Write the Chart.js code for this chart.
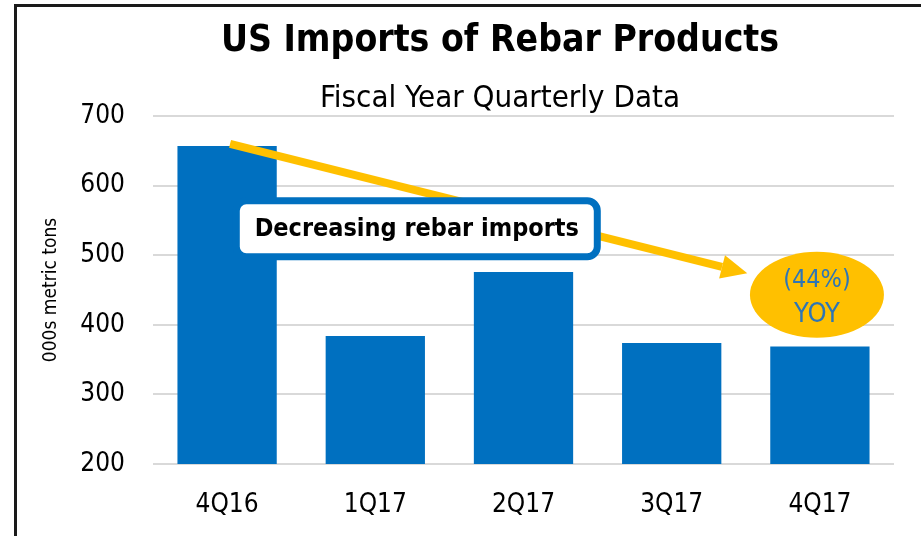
<!DOCTYPE html>
<html>
<head>
<meta charset="utf-8">
<script src="https://cdn.jsdelivr.net/npm/chart.js@4.4.1/dist/chart.umd.min.js"></script>
<style>
  html, body { margin: 0; padding: 0; background: #fff; overflow: hidden; }
  #wrap { position: relative; width: 921px; height: 536px; }
  #frame {
    position: absolute; left: 14px; top: 4px;
    width: 1000px; height: 1000px;
    border: 3px solid #1a1a1a; box-sizing: border-box;
  }
  canvas { position: absolute; left: 0; top: 0; }
</style>
</head>
<body>
<div id="wrap">
  <div id="frame"></div>
  <canvas id="rebarChart" width="921" height="536"></canvas>
</div>
<script>
/* =========================
   DATA
========================= */
const quarters = ["4Q16", "1Q17", "2Q17", "3Q17", "4Q17"];
const imports = [657, 384, 476, 374, 369];
const yTicks = [200, 300, 400, 500, 600, 700];

const titleText = "US Imports of Rebar Products";
const subtitleText = "Fiscal Year Quarterly Data";

// callouts, anchored in data space: [category index, value]
const arrowFrom = [0.02, 660];
const arrowTo = [3.51, 474];
const calloutAt = [1.28, 538];
const calloutText = "Decreasing rebar imports";
const yoyAt = [3.98, 443];
const yoyText = ["(44%)", "YOY"];

const FONT = "'Liberation Sans Narrow', 'DejaVu Sans Condensed', Arial, sans-serif";
const BLUE = "#0070C0";
const GOLD = "#FFC000";

/* =========================
   HEADINGS PLUGIN
   (centred on the framed slide, not the plot)
========================= */
const headings = {
  id: "headings",
  afterDraw(chart) {
    const ctx = chart.ctx;
    ctx.save();
    ctx.fillStyle = "#000";
    ctx.textAlign = "center";
    ctx.textBaseline = "middle";
    ctx.font = "bold 37px " + FONT;
    ctx.fillText(titleText, 500, 41);
    ctx.font = "31px " + FONT;
    ctx.fillText(subtitleText, 500, 99);
    ctx.restore();
  }
};

/* =========================
   CALLOUTS PLUGIN
========================= */
const callouts = {
  id: "callouts",
  afterDatasetsDraw(chart) {
    const { ctx, scales: { x, y } } = chart;
    const px = p => [x.getPixelForValue(p[0]), y.getPixelForValue(p[1])];

    // arrow
    const [x0, y0] = px(arrowFrom);
    const [x1, y1] = px(arrowTo);
    const ang = Math.atan2(y1 - y0, x1 - x0);
    const headLen = 26, headHalf = 12;
    const bx = x1 - headLen * Math.cos(ang);
    const by = y1 - headLen * Math.sin(ang);
    ctx.save();
    ctx.strokeStyle = GOLD;
    ctx.fillStyle = GOLD;
    ctx.lineWidth = 8;
    ctx.beginPath();
    ctx.moveTo(x0, y0);
    ctx.lineTo(bx, by);
    ctx.stroke();
    ctx.beginPath();
    ctx.moveTo(x1, y1);
    ctx.lineTo(bx + headHalf * Math.sin(ang), by - headHalf * Math.cos(ang));
    ctx.lineTo(bx - headHalf * Math.sin(ang), by + headHalf * Math.cos(ang));
    ctx.closePath();
    ctx.fill();

    // text box
    const [cx, cy] = px(calloutAt);
    const w = 361, h = 56;
    ctx.beginPath();
    ctx.roundRect(cx - w / 2, cy - h / 2, w, h, 10);
    ctx.fillStyle = "#fff";
    ctx.fill();
    ctx.lineWidth = 7;
    ctx.strokeStyle = BLUE;
    ctx.stroke();
    ctx.fillStyle = "#000";
    ctx.font = "bold 25px " + FONT;
    ctx.textAlign = "center";
    ctx.textBaseline = "middle";
    ctx.fillText(calloutText, cx, cy + 1);

    // yoy ellipse
    const [ex, ey] = px(yoyAt);
    ctx.beginPath();
    ctx.ellipse(ex, ey, 67, 43, 0, 0, Math.PI * 2);
    ctx.fillStyle = GOLD;
    ctx.fill();
    ctx.fillStyle = "#2E75B6";
    ctx.font = "25px " + FONT;
    ctx.fillText(yoyText[0], ex, ey - 14);
    ctx.font = "27px " + FONT;
    ctx.fillText(yoyText[1], ex, ey + 20);
    ctx.restore();
  }
};

/* =========================
   CHART
========================= */
new Chart(document.getElementById("rebarChart"), {
  type: "bar",
  data: {
    labels: quarters,
    datasets: [{
      data: imports,
      backgroundColor: BLUE,
      categoryPercentage: 0.67,
      barPercentage: 1.0
    }]
  },
  options: {
    responsive: false,
    animation: false,
    layout: { padding: { top: 116, left: 0, right: 27, bottom: 0 } },
    plugins: {
      legend: { display: false },
      tooltip: { enabled: false },
      title: { display: false }
    },
    scales: {
      x: {
        grid: { display: false },
        border: { display: false },
        ticks: {
          color: "#000",
          padding: 18,
          font: { family: FONT, size: 26 }
        },
        afterFit: s => { s.height = 72; }
      },
      y: {
        min: 200,
        max: 700,
        afterBuildTicks: s => { s.ticks = yTicks.map(v => ({ value: v })); },
        grid: { color: "#D9D9D9", lineWidth: 2, drawTicks: false },
        border: { display: false },
        ticks: {
          color: "#000",
          padding: 28,
          font: { family: FONT, size: 26 }
        },
        title: {
          display: true,
          text: "000s metric tons",
          color: "#000",
          font: { family: FONT, size: 19 },
          padding: { top: 40, bottom: 0 }
        },
        afterFit: s => { s.width = 153; }
      }
    }
  },
  plugins: [callouts, headings]
});
</script>
</body>
</html>
